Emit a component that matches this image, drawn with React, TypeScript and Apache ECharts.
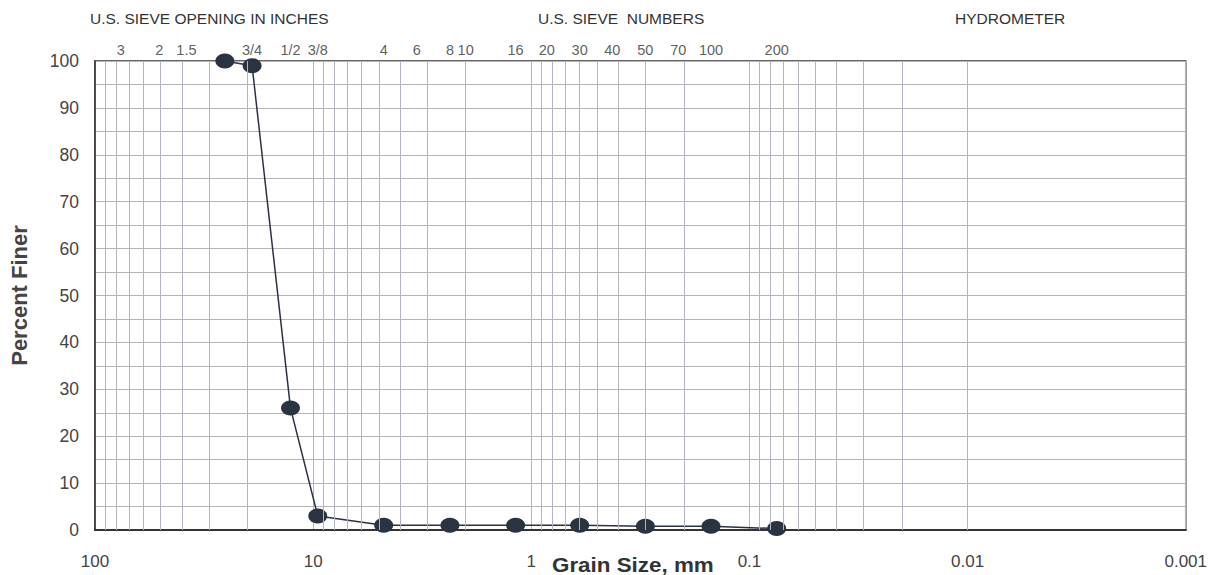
import React, { useEffect, useRef } from "react";
import * as echarts from "echarts";

const grainSizes = [25.4, 19.05, 12.7, 9.525, 4.75, 2.36, 1.18, 0.6, 0.3, 0.15, 0.075];
const percentFiner = [100, 99, 26, 3, 1, 1, 1, 1, 0.8, 0.8, 0.3];

const sieveSizes = [76.2, 50.8, 38.1, 19.05, 12.7, 9.525, 4.75, 3.35, 2.36, 2.0, 1.18, 0.85, 0.6, 0.425, 0.3, 0.212, 0.15, 0.075];
const sieveLabels = ["3", "2", "1.5", "3/4", "1/2", "3/8", "4", "6", "8", "10", "16", "20", "30", "40", "50", "70", "100", "200"];

const decades = [10, 1, 0.1, 0.01, 0.001];
const minorMultipliers = [2, 3, 4, 5, 6, 7, 8, 9];

export default function App() {
  const ref = useRef<HTMLDivElement>(null);
  useEffect(() => {
    if (!ref.current) return;
    const chart = echarts.init(ref.current, undefined, { renderer: "svg" });
    const minorLines: any[] = [];
    decades.forEach((d) => {
      minorMultipliers.forEach((m) => {
        minorLines.push({ xAxis: +(d * m).toPrecision(6) });
      });
    });
    const font = "Liberation Sans, Arial, sans-serif";
    chart.setOption({
      animation: false,
      grid: {
        left: 94,
        right: 22,
        top: 61,
        bottom: 45,
        show: true,
        borderColor: "#333",
        borderWidth: 1.5,
        backgroundColor: "transparent",
      },
      xAxis: {
        type: "log",
        logBase: 10,
        inverse: true,
        min: 0.001,
        max: 100,
        axisLine: { show: true, lineStyle: { color: "#333", width: 2 } },
        axisTick: { show: false },
        axisLabel: {
          show: true,
          margin: 23,
          fontSize: 17,
          color: "#444",
          fontFamily: font,
          showMinLabel: true,
          showMaxLabel: true,
        },
        splitLine: { show: true, lineStyle: { color: "#b4b4c0", width: 1 } },
      },
      yAxis: {
        type: "value",
        min: 0,
        max: 100,
        interval: 5,
        name: "Percent Finer",
        nameLocation: "middle",
        nameGap: 65,
        nameTextStyle: { fontSize: 22, fontWeight: "bold", color: "#444", fontFamily: font },
        axisLine: { show: true, lineStyle: { color: "#333", width: 1.5 } },
        axisTick: { show: false },
        axisLabel: {
          margin: 16,
          fontSize: 17.5,
          color: "#444",
          fontFamily: font,
          formatter: (v: number) => (v % 10 === 0 ? String(v) : ""),
        },
        splitLine: { show: true, lineStyle: { color: "#b4b4b4", width: 1 } },
      },
      graphic: [
        { type: "text", x: 90, y: 18, style: { text: "U.S. SIEVE OPENING IN INCHES", fontSize: 15.5, fill: "#333", fontFamily: font, verticalAlign: "middle" } },
        { type: "text", x: 538, y: 18, style: { text: "U.S. SIEVE  NUMBERS", fontSize: 15.5, fill: "#333", fontFamily: font, verticalAlign: "middle" } },
        { type: "text", x: 955, y: 18, style: { text: "HYDROMETER", fontSize: 15.5, fill: "#333", fontFamily: font, verticalAlign: "middle" } },
        { type: "text", x: 552, y: 565, scaleX: 1.12, style: { text: "Grain Size, mm", fontSize: 20, fontWeight: "bold", fill: "#333", fontFamily: font, verticalAlign: "middle" } },
      ],
      series: [
        {
          type: "scatter",
          z: 1,
          symbolSize: 0,
          silent: true,
          data: sieveSizes.map((s, i) => ({ value: [s, 100], name: sieveLabels[i] })),
          label: {
            show: true,
            position: "top",
            distance: 4,
            formatter: (p: any) => p.name,
            fontSize: 14.5,
            color: "#333",
            fontFamily: font,
          },
          markLine: {
            silent: true,
            symbol: ["none", "none"],
            label: { show: false },
            lineStyle: { color: "#b4b4c0", width: 1, type: "solid" },
            data: minorLines,
          },
        },
        {
          type: "line",
          z: 3,
          data: grainSizes.map((g, i) => [g, percentFiner[i]]),
          symbol: "circle",
          symbolSize: [19, 15],
          lineStyle: { color: "#2a3240", width: 1.5 },
          itemStyle: { color: "#2a3342" },
        },
      ],
    });
    return () => chart.dispose();
  }, []);
  return <div ref={ref} style={{ position: "absolute", left: 0, top: 0, width: 1210, height: 575 }} />;
}
